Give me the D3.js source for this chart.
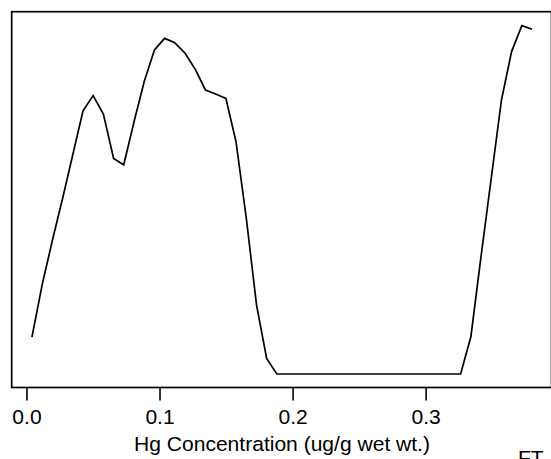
<!DOCTYPE html>
<html><head><meta charset="utf-8">
<script src="https://cdn.jsdelivr.net/npm/d3@7"></script>
<style>body{margin:0;background:#fff} svg{display:block}</style>
</head><body>
<script>
const hgX = [0.0041,0.0118,0.0194,0.0271,0.0348,0.0425,0.0501,0.0578,0.0655,0.0731,
  0.0808,0.0885,0.0962,0.1038,0.1115,0.1192,0.1268,0.1345,0.1422,0.1499,
  0.1575,0.1652,0.1729,0.1805,0.1882,0.1959,0.2036,0.2112,0.2189,0.2266,
  0.2342,0.2419,0.2496,0.2573,0.2649,0.2726,0.2803,0.2879,0.2956,0.3033,
  0.3110,0.3186,0.3263,0.3340,0.3416,0.3493,0.3570,0.3646,0.3723,0.3800];
const density = [0.92,2.23,3.33,4.38,5.48,6.58,6.96,6.50,5.39,5.23,
  6.30,7.31,8.10,8.39,8.28,8.02,7.62,7.10,7.00,6.89,
  5.80,3.90,1.73,0.39,0,0,0,0,0,0,
  0,0,0,0,0,0,0,0,0,0,
  0,0,0,0.93,2.93,4.89,6.85,8.06,8.71,8.62];
const xTicks = [0.0,0.1,0.2,0.3];
const xTickLabels = ["0.0","0.1","0.2","0.3"];
const xTitle = "Hg Concentration (ug/g wet wt.)";
const cornerLabel = "FT";

const W=551,H=459;
const FONT = "'Liberation Sans', Arial, Helvetica, sans-serif";
const svg = d3.select("body").append("svg").attr("width",W).attr("height",H)
  .style("background","#fff");

const pL=11.7, pR=551.5, pT=11.7, pB=387.5;
const x = d3.scaleLinear().domain([-0.0111,0.3946]).range([pL,pR]);
const y = d3.scaleLinear().domain([-0.3375,9.0575]).range([pB,pT]);

// curve
const line = d3.line().x((d,i)=>x(hgX[i])).y(d=>y(d));
svg.append("path").datum(density).attr("d",line)
  .attr("fill","none").attr("stroke","#000").attr("stroke-width",1.7)
  .attr("stroke-linejoin","miter");

// frame
svg.append("rect").attr("x",pL).attr("y",pT)
  .attr("width",pR-pL).attr("height",pB-pT)
  .attr("fill","none").attr("stroke","#000").attr("stroke-width",1.7);

// x axis
const ax = svg.append("g").attr("transform",`translate(0,${pB})`)
  .call(d3.axisBottom(x).tickValues(xTicks).tickSize(13)
    .tickFormat((d,i)=>xTickLabels[i]));
ax.select(".domain").remove();
ax.selectAll(".tick line").attr("stroke","#000").attr("stroke-width",1.6);
ax.selectAll(".tick text").attr("y",0).attr("dy",0)
  .attr("transform","translate(0,36.8) scale(1.08,1)")
  .attr("font-family",FONT).attr("font-size",19.5).attr("fill","#000");

// title
svg.append("text").attr("transform","translate(282,450.7) scale(1.08,1)")
  .attr("text-anchor","middle").attr("font-family",FONT).attr("font-size",19.5)
  .attr("fill","#000").text(xTitle);

svg.append("text").attr("transform","translate(518,464.7) scale(1.08,1)")
  .attr("font-family",FONT).attr("font-size",19.5).attr("fill","#000")
  .text(cornerLabel);
</script>
</body></html>
